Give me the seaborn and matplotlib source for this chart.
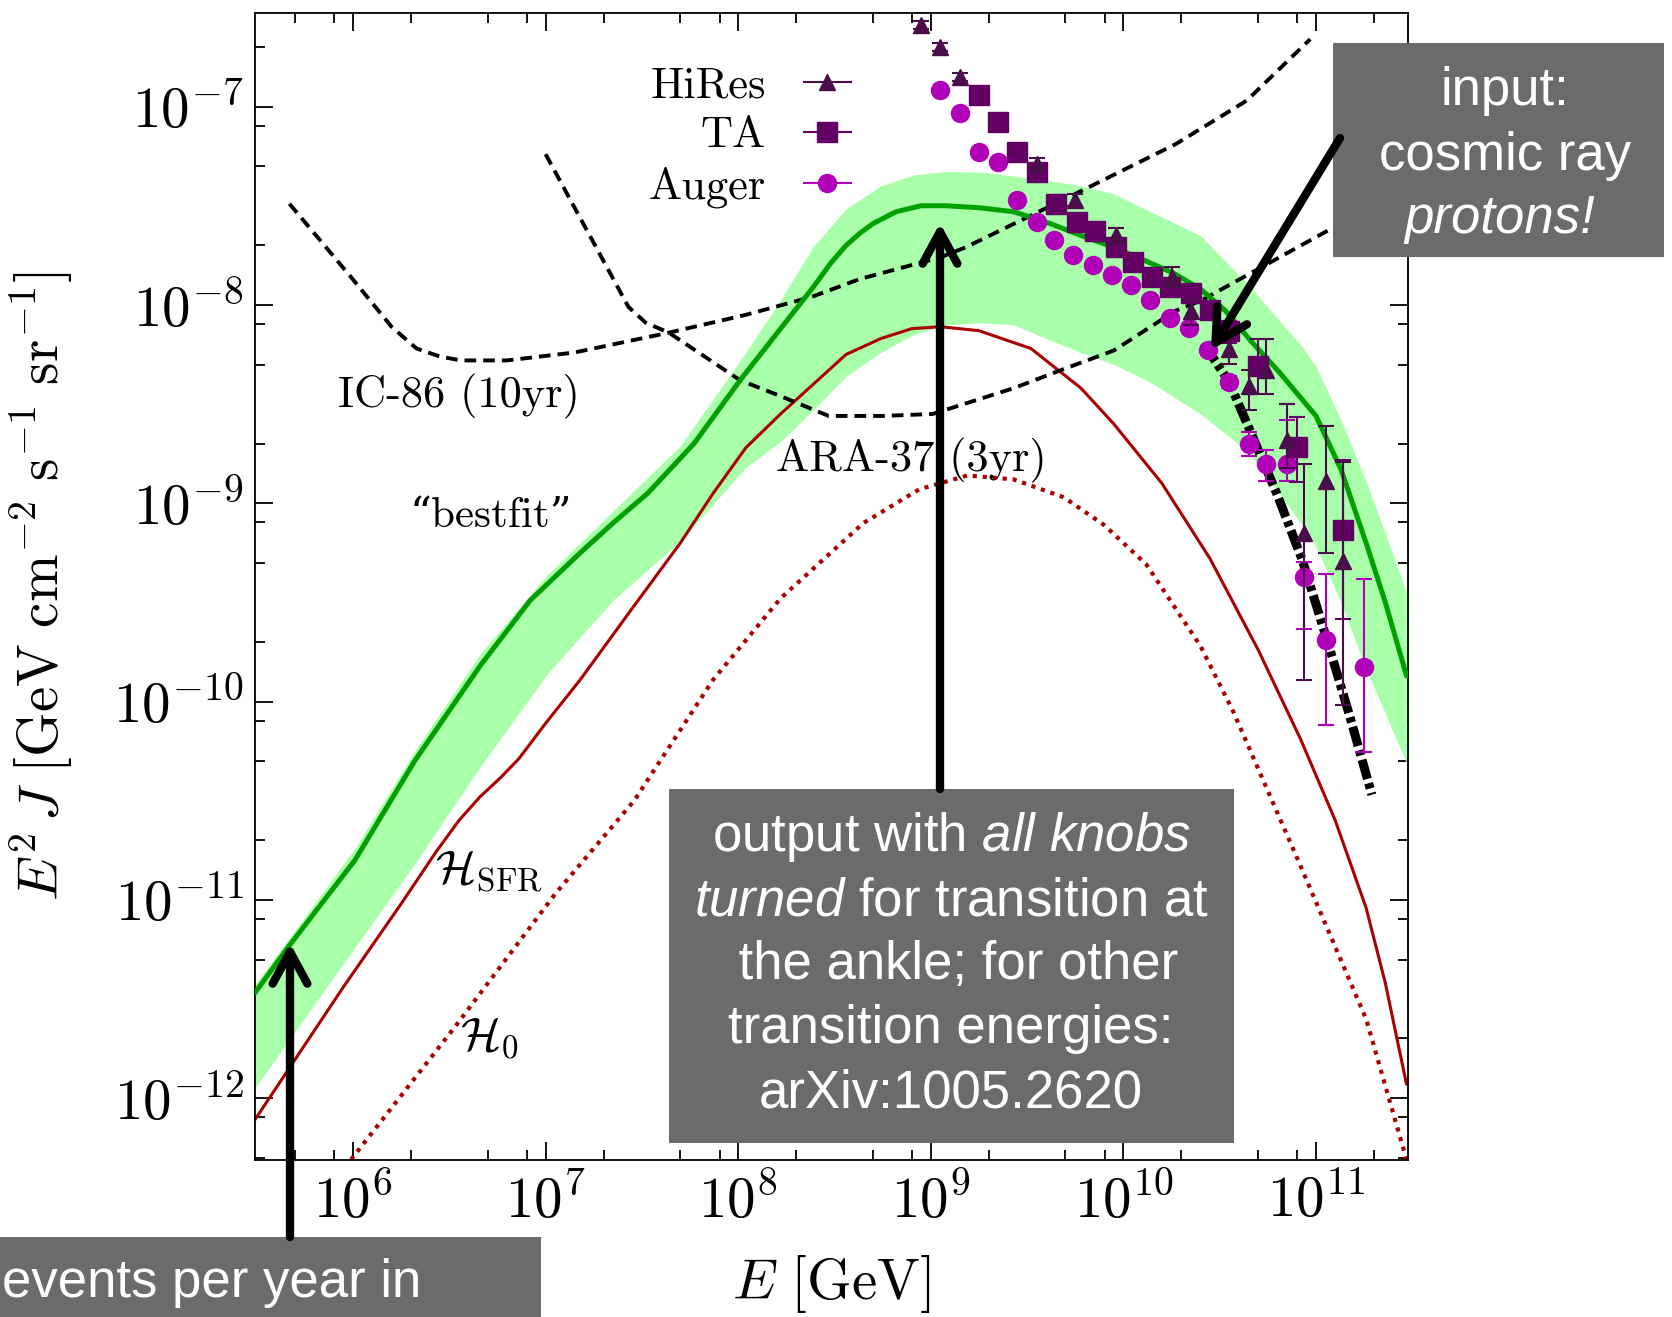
import numpy as np
import matplotlib
matplotlib.use("Agg")
import matplotlib.pyplot as plt
import seaborn as sns
from matplotlib.patches import Rectangle, FancyArrowPatch
from matplotlib.ticker import LogLocator, FuncFormatter, NullFormatter
from matplotlib.container import ErrorbarContainer
from matplotlib.legend_handler import HandlerErrorbar

# ---------------- data (log10 values) ----------------
fit_logE = [5.49, 5.67, 6.01, 6.32, 6.66, 6.92, 7.18, 7.35, 7.53, 7.77, 8.01, 8.22, 8.39, 8.48,
            8.56, 8.63, 8.70, 8.82, 8.95, 9.08, 9.25, 9.43, 9.62, 9.78, 9.95, 10.12, 10.26, 10.40,
            10.53, 10.66, 10.81, 11.00, 11.13, 11.26, 11.36, 11.47]
fit_logJ = [-11.47, -11.23, -10.80, -10.30, -9.82, -9.49, -9.25, -9.10, -8.95, -8.70, -8.38, -8.12,
            -7.91, -7.79, -7.70, -7.64, -7.59, -7.53, -7.50, -7.50, -7.51, -7.53, -7.59, -7.65,
            -7.71, -7.78, -7.84, -7.92, -8.03, -8.18, -8.34, -8.56, -8.83, -9.20, -9.50, -9.87]

band_logE = [5.49, 6.01, 6.32, 6.66, 7.01, 7.35, 7.70, 8.04, 8.22, 8.39, 8.56, 8.74, 8.91, 9.08,
             9.26, 9.43, 9.60, 9.78, 9.95, 10.14, 10.40, 10.57, 10.66, 10.81, 10.92, 11.00, 11.13,
             11.26, 11.36, 11.47]
band_hi = [-11.43, -10.74, -10.25, -9.76, -9.36, -9.04, -8.71, -8.24, -7.975, -7.705, -7.516, -7.40,
           -7.345, -7.327, -7.33, -7.35, -7.37, -7.40, -7.44, -7.53, -7.65, -7.82, -7.91, -8.08,
           -8.20, -8.31, -8.58, -8.89, -9.15, -9.45]
band_lo = [-11.95, -11.24, -10.82, -10.33, -9.86, -9.49, -9.19, -8.82, -8.69, -8.53, -8.36, -8.24,
           -8.15, -8.10, -8.09, -8.10, -8.17, -8.24, -8.30, -8.39, -8.55, -8.68, -8.76, -8.95,
           -9.10, -9.22, -9.50, -9.84, -10.06, -10.31]

sfr_logE = [5.49, 5.95, 6.25, 6.43, 6.55, 6.66, 6.76, 6.86, 7.00, 7.18, 7.45, 7.70, 7.87, 8.04,
            8.22, 8.39, 8.56, 8.74, 8.90, 9.05, 9.25, 9.52, 9.78, 9.95, 10.20, 10.45, 10.70, 10.92,
            11.10, 11.26, 11.36, 11.47]
sfr_logJ = [-12.11, -11.44, -11.02, -10.76, -10.60, -10.48, -10.39, -10.29, -10.11, -9.89, -9.53,
            -9.20, -8.95, -8.72, -8.55, -8.40, -8.25, -8.17, -8.12, -8.11, -8.13, -8.22, -8.42,
            -8.60, -8.90, -9.28, -9.74, -10.19, -10.60, -11.04, -11.42, -11.93]

h0_logE = [5.99, 6.53, 7.05, 7.46, 7.87, 8.22, 8.65, 8.94, 9.19, 9.43, 9.69, 9.90, 10.12, 10.40,
           10.57, 10.92, 11.26, 11.47]
h0_logJ = [-12.31, -11.64, -10.97, -10.50, -9.89, -9.48, -9.10, -8.93, -8.86, -8.88, -8.97, -9.11,
           -9.31, -9.72, -10.05, -10.83, -11.60, -12.31]

ic_logE = [5.67, 5.99, 6.20, 6.33, 6.45, 6.56, 6.80, 7.15, 7.64, 8.04, 8.38, 8.63, 9.05, 9.18,
           9.73, 10.27, 10.64, 10.97]
ic_logJ = [-7.49, -7.86, -8.11, -8.22, -8.26, -8.28, -8.28, -8.24, -8.14, -8.05, -7.96, -7.87,
           -7.76, -7.71, -7.45, -7.19, -6.97, -6.66]

ara_logE = [7.00, 7.43, 7.52, 7.64, 8.01, 8.22, 8.47, 8.75, 9.01, 9.43, 9.70, 9.95, 10.27, 10.40,
            11.09, 11.47]
ara_logJ = [-7.24, -8.01, -8.09, -8.14, -8.38, -8.46, -8.56, -8.56, -8.55, -8.42, -8.32, -8.23,
            -8.03, -7.98, -7.61, -7.40]

gzk_logE = [10.42, 10.55, 10.66, 10.80, 10.93, 11.07, 11.18, 11.29]
gzk_logJ = [-8.20, -8.39, -8.64, -8.96, -9.29, -9.73, -10.09, -10.47]

hires_logE = [8.95, 9.05, 9.15, 9.55, 9.75, 9.96, 10.25, 10.35, 10.55, 10.65, 10.74, 10.85, 10.94,
              11.05, 11.14]
hires_logJ = [-6.59, -6.70, -6.85, -7.29, -7.47, -7.65, -7.86, -8.03, -8.22, -8.41, -8.33, -8.68,
              -9.15, -8.89, -9.29]
hires_up = [0.02, 0.02, 0.02, 0.03, 0.03, 0.04, 0.05, 0.06, 0.07, 0.08, 0.16, 0.18, 0.35, 0.28, 0.50]
hires_dn = [0.02, 0.02, 0.02, 0.03, 0.03, 0.04, 0.05, 0.07, 0.08, 0.12, 0.12, 0.14, 0.74, 0.36, 0.73]

ta_logE = [9.25, 9.35, 9.45, 9.55, 9.65, 9.76, 9.85, 9.96, 10.05, 10.15, 10.24, 10.35, 10.45, 10.55,
           10.70, 10.90, 11.14]
ta_logJ = [-6.94, -7.08, -7.23, -7.33, -7.49, -7.58, -7.625, -7.71, -7.783, -7.858, -7.91, -7.94,
           -8.026, -8.13, -8.31, -8.715, -9.134]
ta_up = [0.01, 0.01, 0.01, 0.01, 0.01, 0.01, 0.01, 0.02, 0.02, 0.02, 0.03, 0.03, 0.04, 0.05, 0.14,
         0.15, 0.35]
ta_dn = [0.01, 0.01, 0.01, 0.01, 0.01, 0.01, 0.01, 0.02, 0.02, 0.02, 0.03, 0.03, 0.05, 0.06, 0.14,
         0.18, 0.45]

auger_logE = [9.05, 9.15, 9.25, 9.35, 9.45, 9.55, 9.64, 9.74, 9.84, 9.94, 10.04, 10.14, 10.24, 10.34,
              10.44, 10.55, 10.65, 10.74, 10.85, 10.94, 11.05, 11.25]
auger_logJ = [-6.916, -7.034, -7.227, -7.278, -7.471, -7.58, -7.673, -7.748, -7.799, -7.849, -7.90,
              -7.975, -8.068, -8.118, -8.226, -8.391, -8.70, -8.80, -8.80, -9.374, -9.688, -9.824]
auger_up = [0.01] * 14 + [0.02, 0.03, 0.06, 0.07, 0.22, 0.08, 0.33, 0.44]
auger_dn = [0.01] * 14 + [0.02, 0.03, 0.06, 0.09, 0.09, 0.26, 0.43, 0.43]

legend_labels = ["HiRes", "TA", "Auger"]
curve_labels = ["IC-86 (10yr)", "ARA-37 (3yr)", "\u201cbestfit\u201d", r"$\mathcal{H}_{\rm SFR}$",
                r"$\mathcal{H}_0$"]
box_texts = {
    "input": ["input:", "cosmic ray", "protons!"],
    "output": [r"output with $\mathit{all\ knobs}$", r"$\mathit{turned}$ for transition at",
               " the ankle; for other", "transition energies:", "arXiv:1005.2620"],
    "events": ["events per year in"],
}

# ---------------- style ----------------
sns.set_theme(style="ticks")
plt.rcParams.update({
    "mathtext.fontset": "cm",
    "mathtext.rm": "Liberation Sans",
    "mathtext.it": "Liberation Sans:italic",
    "mathtext.bf": "Liberation Sans:bold",
    "text.color": "black",
    "axes.edgecolor": "black",
    "axes.labelcolor": "black",
    "xtick.color": "black",
    "ytick.color": "black",
    "axes.linewidth": 1.3,
    "lines.solid_joinstyle": "round",
    "lines.dash_joinstyle": "round",
})
plt.rcParams["font.family"] = ["cmr10", "DejaVu Serif"]

W, H = 1672, 1317
fig = plt.figure(figsize=(W / 100, H / 100), dpi=100)
ax = fig.add_axes([255 / W, 1 - 1160 / H, (1407.5 - 255) / W, (1160 - 12.8) / H])
ax.set_xscale("log")
ax.set_yscale("log")


def P(a):
    return 10 ** np.asarray(a, dtype=float)


def errs(logJ, up, dn):
    lj = np.asarray(logJ, dtype=float)
    y = 10 ** lj
    return y, np.vstack([y - 10 ** (lj - np.asarray(dn)), 10 ** (lj + np.asarray(up)) - y])


GREEN = "#00a000"
BAND = "#aaffaa"
RED = "#aa0000"
C_HIRES = "#4a0c4a"
C_TA = "#620063"
C_AUGER = "#b000b8"

ax.fill_between(P(band_logE), P(band_lo), P(band_hi), color=BAND, lw=0, zorder=1)

lkw = dict(ax=ax, sort=False, estimator=None)
sns.lineplot(x=P(ic_logE), y=P(ic_logJ), color="black", lw=2.8, linestyle=(0, (3, 1.8)), zorder=3, **lkw)
sns.lineplot(x=P(ara_logE), y=P(ara_logJ), color="black", lw=2.8, linestyle=(0, (3, 1.8)), zorder=3, **lkw)
sns.lineplot(x=P(h0_logE), y=P(h0_logJ), color=RED, lw=3.0, linestyle=(0, (1, 1.4)), zorder=2, **lkw)
sns.lineplot(x=P(sfr_logE), y=P(sfr_logJ), color=RED, lw=2.2, zorder=2, **lkw)
sns.lineplot(x=P(fit_logE), y=P(fit_logJ), color=GREEN, lw=3.6, zorder=3, **lkw)
sns.lineplot(x=P(gzk_logE), y=P(gzk_logJ), color="black", lw=6.5,
             linestyle=(0, (2.2, 0.5, 0.6, 0.5)), zorder=4, **lkw)

ekw = dict(elinewidth=1.5, capsize=6, capthick=1.5, linestyle="none")
y, e = errs(ta_logJ, ta_up, ta_dn)
ax.errorbar(P(ta_logE), y, yerr=e, fmt="s", ms=15, color=C_TA, ecolor=C_TA, zorder=6, **ekw)
y, e = errs(hires_logJ, hires_up, hires_dn)
ax.errorbar(P(hires_logE), y, yerr=e, fmt="^", ms=11, color=C_HIRES, ecolor=C_HIRES, zorder=7, **ekw)
y, e = errs(auger_logJ, auger_up, auger_dn)
ax.errorbar(P(auger_logE), y, yerr=e, fmt="o", ms=13, color=C_AUGER, ecolor=C_AUGER, zorder=5, **ekw)

# legend with horizontal bars
proxies = []
for m, s, c in [("^", 11, C_HIRES), ("s", 15, C_TA), ("o", 13, C_AUGER)]:
    proxies.append(ax.errorbar([], [], xerr=[], fmt=m, ms=s, color=c, ecolor=c, **ekw))
ax.legend(proxies, legend_labels, loc="upper right", bbox_to_anchor=(855 / W, 1 - 66 / H),
          bbox_transform=fig.transFigure, frameon=False, markerfirst=False,
          prop={"family": ["cmr10", "DejaVu Serif"], "size": 32}, handlelength=1.25,
          handletextpad=0.75, labelspacing=0.23, borderpad=0, borderaxespad=0,
          handler_map={ErrorbarContainer: HandlerErrorbar(xerr_size=0.55)})

# curve labels
lab_pos = [(6.548, -8.463), (8.901, -8.785), (6.714, -9.065), (6.706, -10.855), (6.711, -11.697)]
lab_size = [32, 32, 31, 34, 34]
for txt, (lx, ly), fs in zip(curve_labels, lab_pos, lab_size):
    ax.text(10 ** lx, 10 ** ly, txt, fontsize=fs, ha="center", va="center",
            family=["cmr10", "DejaVu Serif"], zorder=8)

# axes limits and ticks
ax.set_xlim(10 ** 5.4912, 10 ** 11.4751)
ax.set_ylim(10 ** -12.3121, 10 ** -6.527)
for axis in (ax.xaxis, ax.yaxis):
    axis.set_major_locator(LogLocator(base=10, numticks=30))
    axis.set_minor_locator(LogLocator(base=10, subs=(2.0, 5.0, 8.0), numticks=30))
    axis.set_major_formatter(FuncFormatter(lambda v, p: r"$10^{%d}$" % int(round(np.log10(v)))))
    axis.set_minor_formatter(NullFormatter())
ax.tick_params(which="both", direction="in", top=True, right=True, width=1.3, colors="black")
ax.tick_params(which="major", length=13, labelsize=41)
ax.tick_params(axis="x", which="major", pad=10)
ax.tick_params(axis="y", which="major", pad=8)
ax.tick_params(which="minor", length=7)
for s in ax.spines.values():
    s.set_visible(True)
    s.set_color("black")

ax.set_xlabel(r"$E\ [\mathrm{GeV}]$", fontsize=41)
ax.set_ylabel(r"$E^2\,J\ [\mathrm{GeV\ cm^{-2}\ s^{-1}\ sr^{-1}}]$", fontsize=41)
ax.xaxis.set_label_coords(0.5, (1160 - 1253) / (1160 - 12.8))
ax.yaxis.set_label_coords((75 - 255) / (1407.5 - 255), 0.5)

# annotation boxes (figure level)
GRAY = "#6b6b6b"


def fbox(x0, y0, x1, y1):
    fig.add_artist(Rectangle((x0 / W, 1 - y1 / H), (x1 - x0) / W, (y1 - y0) / H,
                             transform=fig.transFigure, facecolor=GRAY, edgecolor="none",
                             zorder=10))


def ftext(x, y, s, ha="center", **kw):
    fig.text(x / W, 1 - y / H, s, color="white", fontsize=38, family="Liberation Sans",
             math_fontfamily="custom", ha=ha, va="baseline", zorder=11, **kw)


fbox(1333, 43, 1664, 256.5)
fbox(668.6, 789, 1233.7, 1143)
fbox(-5, 1237, 540.6, 1330)

ftext(1505, 105, box_texts["input"][0])
ftext(1505, 170, box_texts["input"][1])
ftext(1500, 233, box_texts["input"][2], style="italic")
for i, s in enumerate(box_texts["output"]):
    ftext(951, 851 + 64 * i, s)
ftext(2, 1297, box_texts["events"][0], ha="left")


def farrow(p0, p1):
    fig.add_artist(FancyArrowPatch((p0[0] / W, 1 - p0[1] / H), (p1[0] / W, 1 - p1[1] / H),
                                   transform=fig.transFigure,
                                   arrowstyle="->,head_length=0.46,head_width=0.25",
                                   mutation_scale=50, lw=6, color="black", shrinkA=0, shrinkB=0,
                                   joinstyle="round", capstyle="round", zorder=12))


farrow((290, 1237), (290, 943))
farrow((940, 789), (940, 223))
farrow((1340, 138), (1211, 350))

fig.savefig("out.png", dpi=100)
